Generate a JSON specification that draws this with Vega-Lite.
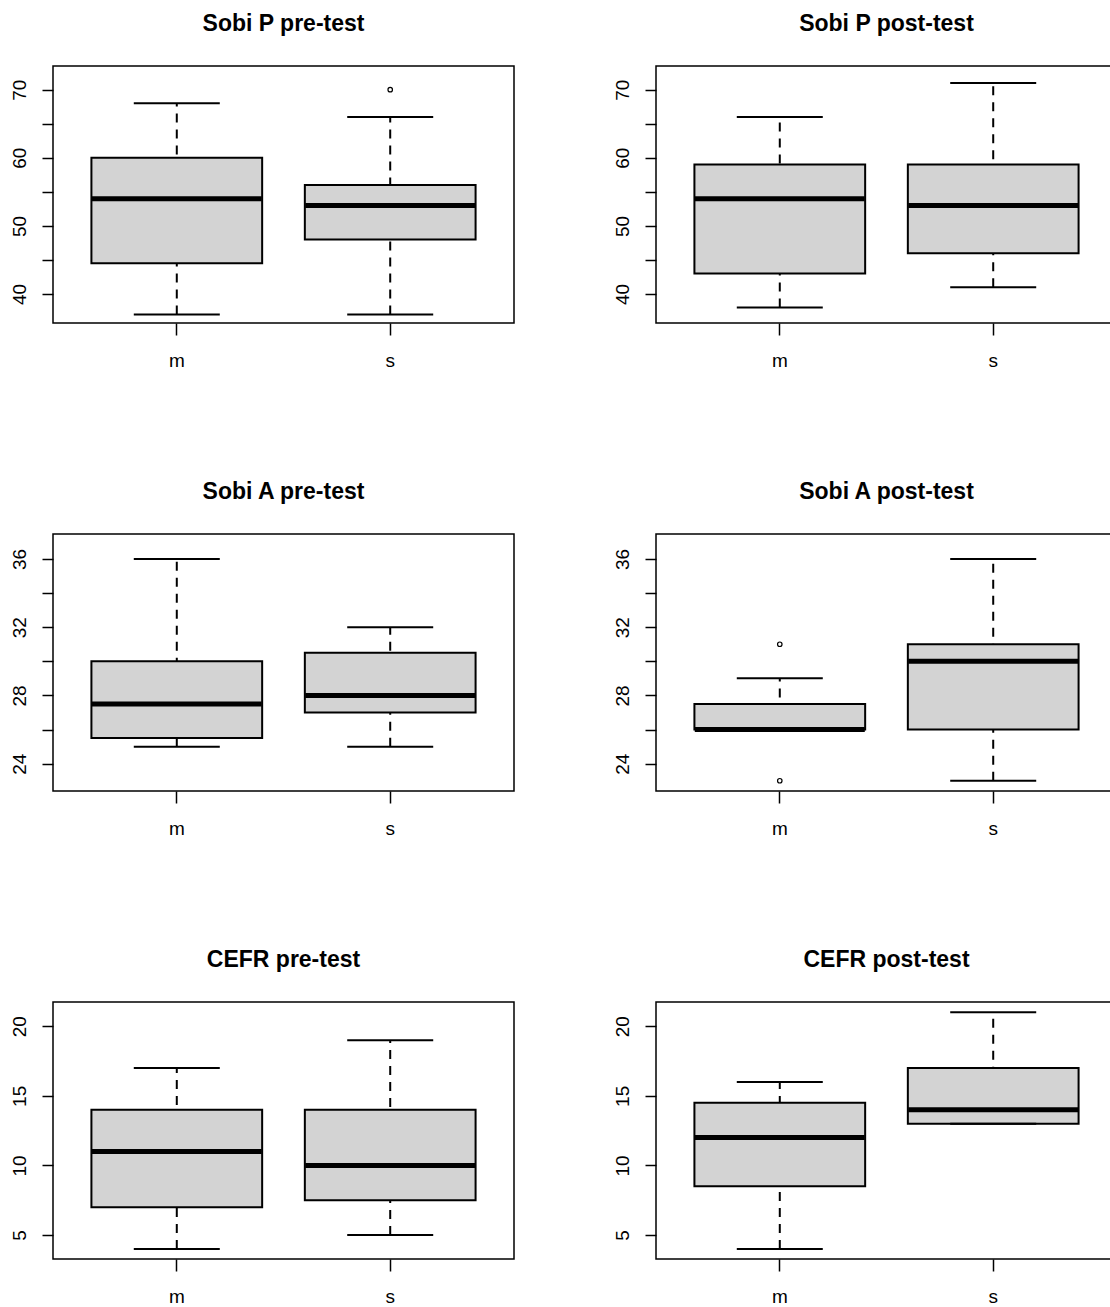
{
  "$schema": "https://vega.github.io/schema/vega-lite/v6.json",
  "background": "white",
  "padding": {"left": 9, "top": 12, "right": 0, "bottom": 0},
  "datasets": {
    "boxes": [
      {"panel": "Sobi P pre-test", "group": "m", "lower": 37, "q1": 44.5, "median": 54, "q3": 60, "upper": 68},
      {"panel": "Sobi P pre-test", "group": "s", "lower": 37, "q1": 48, "median": 53, "q3": 56, "upper": 66},
      {"panel": "Sobi P post-test", "group": "m", "lower": 38, "q1": 43, "median": 54, "q3": 59, "upper": 66},
      {"panel": "Sobi P post-test", "group": "s", "lower": 41, "q1": 46, "median": 53, "q3": 59, "upper": 71},
      {"panel": "Sobi A pre-test", "group": "m", "lower": 25, "q1": 25.5, "median": 27.5, "q3": 30, "upper": 36},
      {"panel": "Sobi A pre-test", "group": "s", "lower": 25, "q1": 27, "median": 28, "q3": 30.5, "upper": 32},
      {"panel": "Sobi A post-test", "group": "m", "lower": 26, "q1": 26, "median": 26, "q3": 27.5, "upper": 29},
      {"panel": "Sobi A post-test", "group": "s", "lower": 23, "q1": 26, "median": 30, "q3": 31, "upper": 36},
      {"panel": "CEFR pre-test", "group": "m", "lower": 4, "q1": 7, "median": 11, "q3": 14, "upper": 17},
      {"panel": "CEFR pre-test", "group": "s", "lower": 5, "q1": 7.5, "median": 10, "q3": 14, "upper": 19},
      {"panel": "CEFR post-test", "group": "m", "lower": 4, "q1": 8.5, "median": 12, "q3": 14.5, "upper": 16},
      {"panel": "CEFR post-test", "group": "s", "lower": 13, "q1": 13, "median": 14, "q3": 17, "upper": 21}
    ],
    "outliers": [
      {"panel": "Sobi P pre-test", "group": "s", "value": 70},
      {"panel": "Sobi A post-test", "group": "m", "value": 31},
      {"panel": "Sobi A post-test", "group": "m", "value": 23}
    ]
  },
  "columns": 2,
  "spacing": {"row": 211, "column": 142},
  "bounds": "flush",
  "concat": [
    {
      "width": 461, "height": 257, "title": "Sobi P pre-test",
      "data": {"name": "boxes"},
      "transform": [{"filter": "datum.panel == 'Sobi P pre-test'"}],
      "layer": [
        {"mark": {"type": "rule", "strokeDash": [9, 7], "strokeWidth": 2, "color": "black"},
         "encoding": {"x": {"field": "group", "type": "nominal", "scale": {"domain": ["m", "s"], "paddingInner": 0, "paddingOuter": 0.08}, "axis": {"title": null}},
                      "y": {"field": "lower", "type": "quantitative", "scale": {"domain": [35.74, 73.48], "nice": false, "zero": false}, "axis": {"title": null, "values": [40, 45, 50, 55, 60, 65, 70], "labelExpr": "datum.value % 10 == 0 ? datum.label : ''"}},
                      "y2": {"field": "upper"}}},
        {"mark": {"type": "bar", "width": {"band": 0.8}, "fill": "#d3d3d3", "stroke": "black", "strokeWidth": 2},
         "encoding": {"x": {"field": "group", "type": "nominal"}, "y": {"field": "q1", "type": "quantitative"}, "y2": {"field": "q3"}}},
        {"mark": {"type": "tick", "size": 170, "thickness": 5, "color": "black", "opacity": 1},
         "encoding": {"x": {"field": "group", "type": "nominal"}, "y": {"field": "median", "type": "quantitative"}}},
        {"mark": {"type": "tick", "size": 86, "thickness": 2, "color": "black", "opacity": 1},
         "encoding": {"x": {"field": "group", "type": "nominal"}, "y": {"field": "upper", "type": "quantitative"}}},
        {"mark": {"type": "tick", "size": 86, "thickness": 2, "color": "black", "opacity": 1},
         "encoding": {"x": {"field": "group", "type": "nominal"}, "y": {"field": "lower", "type": "quantitative"}}},
        {"data": {"name": "outliers"}, "transform": [{"filter": "datum.panel == 'Sobi P pre-test'"}],
         "mark": {"type": "point", "shape": "circle", "filled": false, "size": 20, "strokeWidth": 1.2, "color": "black", "opacity": 1},
         "encoding": {"x": {"field": "group", "type": "nominal"}, "y": {"field": "value", "type": "quantitative"}}}
      ]
    },
    {
      "width": 461, "height": 257, "title": "Sobi P post-test",
      "data": {"name": "boxes"},
      "transform": [{"filter": "datum.panel == 'Sobi P post-test'"}],
      "layer": [
        {"mark": {"type": "rule", "strokeDash": [9, 7], "strokeWidth": 2, "color": "black"},
         "encoding": {"x": {"field": "group", "type": "nominal", "scale": {"domain": ["m", "s"], "paddingInner": 0, "paddingOuter": 0.08}, "axis": {"title": null}},
                      "y": {"field": "lower", "type": "quantitative", "scale": {"domain": [35.74, 73.48], "nice": false, "zero": false}, "axis": {"title": null, "values": [40, 45, 50, 55, 60, 65, 70], "labelExpr": "datum.value % 10 == 0 ? datum.label : ''"}},
                      "y2": {"field": "upper"}}},
        {"mark": {"type": "bar", "width": {"band": 0.8}, "fill": "#d3d3d3", "stroke": "black", "strokeWidth": 2},
         "encoding": {"x": {"field": "group", "type": "nominal"}, "y": {"field": "q1", "type": "quantitative"}, "y2": {"field": "q3"}}},
        {"mark": {"type": "tick", "size": 170, "thickness": 5, "color": "black", "opacity": 1},
         "encoding": {"x": {"field": "group", "type": "nominal"}, "y": {"field": "median", "type": "quantitative"}}},
        {"mark": {"type": "tick", "size": 86, "thickness": 2, "color": "black", "opacity": 1},
         "encoding": {"x": {"field": "group", "type": "nominal"}, "y": {"field": "upper", "type": "quantitative"}}},
        {"mark": {"type": "tick", "size": 86, "thickness": 2, "color": "black", "opacity": 1},
         "encoding": {"x": {"field": "group", "type": "nominal"}, "y": {"field": "lower", "type": "quantitative"}}}
      ]
    },
    {
      "width": 461, "height": 257, "title": "Sobi A pre-test",
      "data": {"name": "boxes"},
      "transform": [{"filter": "datum.panel == 'Sobi A pre-test'"}],
      "layer": [
        {"mark": {"type": "rule", "strokeDash": [9, 7], "strokeWidth": 2, "color": "black"},
         "encoding": {"x": {"field": "group", "type": "nominal", "scale": {"domain": ["m", "s"], "paddingInner": 0, "paddingOuter": 0.08}, "axis": {"title": null}},
                      "y": {"field": "lower", "type": "quantitative", "scale": {"domain": [22.4, 37.46], "nice": false, "zero": false}, "axis": {"title": null, "values": [24, 26, 28, 30, 32, 34, 36], "labelExpr": "datum.value % 4 == 0 ? datum.label : ''"}},
                      "y2": {"field": "upper"}}},
        {"mark": {"type": "bar", "width": {"band": 0.8}, "fill": "#d3d3d3", "stroke": "black", "strokeWidth": 2},
         "encoding": {"x": {"field": "group", "type": "nominal"}, "y": {"field": "q1", "type": "quantitative"}, "y2": {"field": "q3"}}},
        {"mark": {"type": "tick", "size": 170, "thickness": 5, "color": "black", "opacity": 1},
         "encoding": {"x": {"field": "group", "type": "nominal"}, "y": {"field": "median", "type": "quantitative"}}},
        {"mark": {"type": "tick", "size": 86, "thickness": 2, "color": "black", "opacity": 1},
         "encoding": {"x": {"field": "group", "type": "nominal"}, "y": {"field": "upper", "type": "quantitative"}}},
        {"mark": {"type": "tick", "size": 86, "thickness": 2, "color": "black", "opacity": 1},
         "encoding": {"x": {"field": "group", "type": "nominal"}, "y": {"field": "lower", "type": "quantitative"}}}
      ]
    },
    {
      "width": 461, "height": 257, "title": "Sobi A post-test",
      "data": {"name": "boxes"},
      "transform": [{"filter": "datum.panel == 'Sobi A post-test'"}],
      "layer": [
        {"mark": {"type": "rule", "strokeDash": [9, 7], "strokeWidth": 2, "color": "black"},
         "encoding": {"x": {"field": "group", "type": "nominal", "scale": {"domain": ["m", "s"], "paddingInner": 0, "paddingOuter": 0.08}, "axis": {"title": null}},
                      "y": {"field": "lower", "type": "quantitative", "scale": {"domain": [22.4, 37.46], "nice": false, "zero": false}, "axis": {"title": null, "values": [24, 26, 28, 30, 32, 34, 36], "labelExpr": "datum.value % 4 == 0 ? datum.label : ''"}},
                      "y2": {"field": "upper"}}},
        {"mark": {"type": "bar", "width": {"band": 0.8}, "fill": "#d3d3d3", "stroke": "black", "strokeWidth": 2},
         "encoding": {"x": {"field": "group", "type": "nominal"}, "y": {"field": "q1", "type": "quantitative"}, "y2": {"field": "q3"}}},
        {"mark": {"type": "tick", "size": 170, "thickness": 5, "color": "black", "opacity": 1},
         "encoding": {"x": {"field": "group", "type": "nominal"}, "y": {"field": "median", "type": "quantitative"}}},
        {"mark": {"type": "tick", "size": 86, "thickness": 2, "color": "black", "opacity": 1},
         "encoding": {"x": {"field": "group", "type": "nominal"}, "y": {"field": "upper", "type": "quantitative"}}},
        {"mark": {"type": "tick", "size": 86, "thickness": 2, "color": "black", "opacity": 1},
         "encoding": {"x": {"field": "group", "type": "nominal"}, "y": {"field": "lower", "type": "quantitative"}}},
        {"data": {"name": "outliers"}, "transform": [{"filter": "datum.panel == 'Sobi A post-test'"}],
         "mark": {"type": "point", "shape": "circle", "filled": false, "size": 20, "strokeWidth": 1.2, "color": "black", "opacity": 1},
         "encoding": {"x": {"field": "group", "type": "nominal"}, "y": {"field": "value", "type": "quantitative"}}}
      ]
    },
    {
      "width": 461, "height": 257, "title": "CEFR pre-test",
      "data": {"name": "boxes"},
      "transform": [{"filter": "datum.panel == 'CEFR pre-test'"}],
      "layer": [
        {"mark": {"type": "rule", "strokeDash": [9, 7], "strokeWidth": 2, "color": "black"},
         "encoding": {"x": {"field": "group", "type": "nominal", "scale": {"domain": ["m", "s"], "paddingInner": 0, "paddingOuter": 0.08}, "axis": {"title": null}},
                      "y": {"field": "lower", "type": "quantitative", "scale": {"domain": [3.28, 21.74], "nice": false, "zero": false}, "axis": {"title": null, "values": [5, 10, 15, 20]}},
                      "y2": {"field": "upper"}}},
        {"mark": {"type": "bar", "width": {"band": 0.8}, "fill": "#d3d3d3", "stroke": "black", "strokeWidth": 2},
         "encoding": {"x": {"field": "group", "type": "nominal"}, "y": {"field": "q1", "type": "quantitative"}, "y2": {"field": "q3"}}},
        {"mark": {"type": "tick", "size": 170, "thickness": 5, "color": "black", "opacity": 1},
         "encoding": {"x": {"field": "group", "type": "nominal"}, "y": {"field": "median", "type": "quantitative"}}},
        {"mark": {"type": "tick", "size": 86, "thickness": 2, "color": "black", "opacity": 1},
         "encoding": {"x": {"field": "group", "type": "nominal"}, "y": {"field": "upper", "type": "quantitative"}}},
        {"mark": {"type": "tick", "size": 86, "thickness": 2, "color": "black", "opacity": 1},
         "encoding": {"x": {"field": "group", "type": "nominal"}, "y": {"field": "lower", "type": "quantitative"}}}
      ]
    },
    {
      "width": 461, "height": 257, "title": "CEFR post-test",
      "data": {"name": "boxes"},
      "transform": [{"filter": "datum.panel == 'CEFR post-test'"}],
      "layer": [
        {"mark": {"type": "rule", "strokeDash": [9, 7], "strokeWidth": 2, "color": "black"},
         "encoding": {"x": {"field": "group", "type": "nominal", "scale": {"domain": ["m", "s"], "paddingInner": 0, "paddingOuter": 0.08}, "axis": {"title": null}},
                      "y": {"field": "lower", "type": "quantitative", "scale": {"domain": [3.28, 21.74], "nice": false, "zero": false}, "axis": {"title": null, "values": [5, 10, 15, 20]}},
                      "y2": {"field": "upper"}}},
        {"mark": {"type": "bar", "width": {"band": 0.8}, "fill": "#d3d3d3", "stroke": "black", "strokeWidth": 2},
         "encoding": {"x": {"field": "group", "type": "nominal"}, "y": {"field": "q1", "type": "quantitative"}, "y2": {"field": "q3"}}},
        {"mark": {"type": "tick", "size": 170, "thickness": 5, "color": "black", "opacity": 1},
         "encoding": {"x": {"field": "group", "type": "nominal"}, "y": {"field": "median", "type": "quantitative"}}},
        {"mark": {"type": "tick", "size": 86, "thickness": 2, "color": "black", "opacity": 1},
         "encoding": {"x": {"field": "group", "type": "nominal"}, "y": {"field": "upper", "type": "quantitative"}}},
        {"mark": {"type": "tick", "size": 86, "thickness": 2, "color": "black", "opacity": 1},
         "encoding": {"x": {"field": "group", "type": "nominal"}, "y": {"field": "lower", "type": "quantitative"}}}
      ]
    }
  ],
  "config": {
    "font": "Liberation Sans",
    "view": {"stroke": "black", "strokeWidth": 1.5},
    "axis": {"domain": false, "grid": false, "tickColor": "black", "tickWidth": 1.5, "labelColor": "black", "labelFont": "Liberation Sans", "labelFontSize": 19},
    "axisY": {"tickSize": 11, "labelAngle": -90, "labelAlign": "center", "labelBaseline": "alphabetic", "labelPadding": 17},
    "axisX": {"tickSize": 12, "labelPadding": 16, "labelAngle": 0},
    "title": {"fontSize": 23, "fontWeight": "bold", "font": "Liberation Sans", "color": "black", "anchor": "middle", "baseline": "alphabetic", "offset": 30}
  }
}
